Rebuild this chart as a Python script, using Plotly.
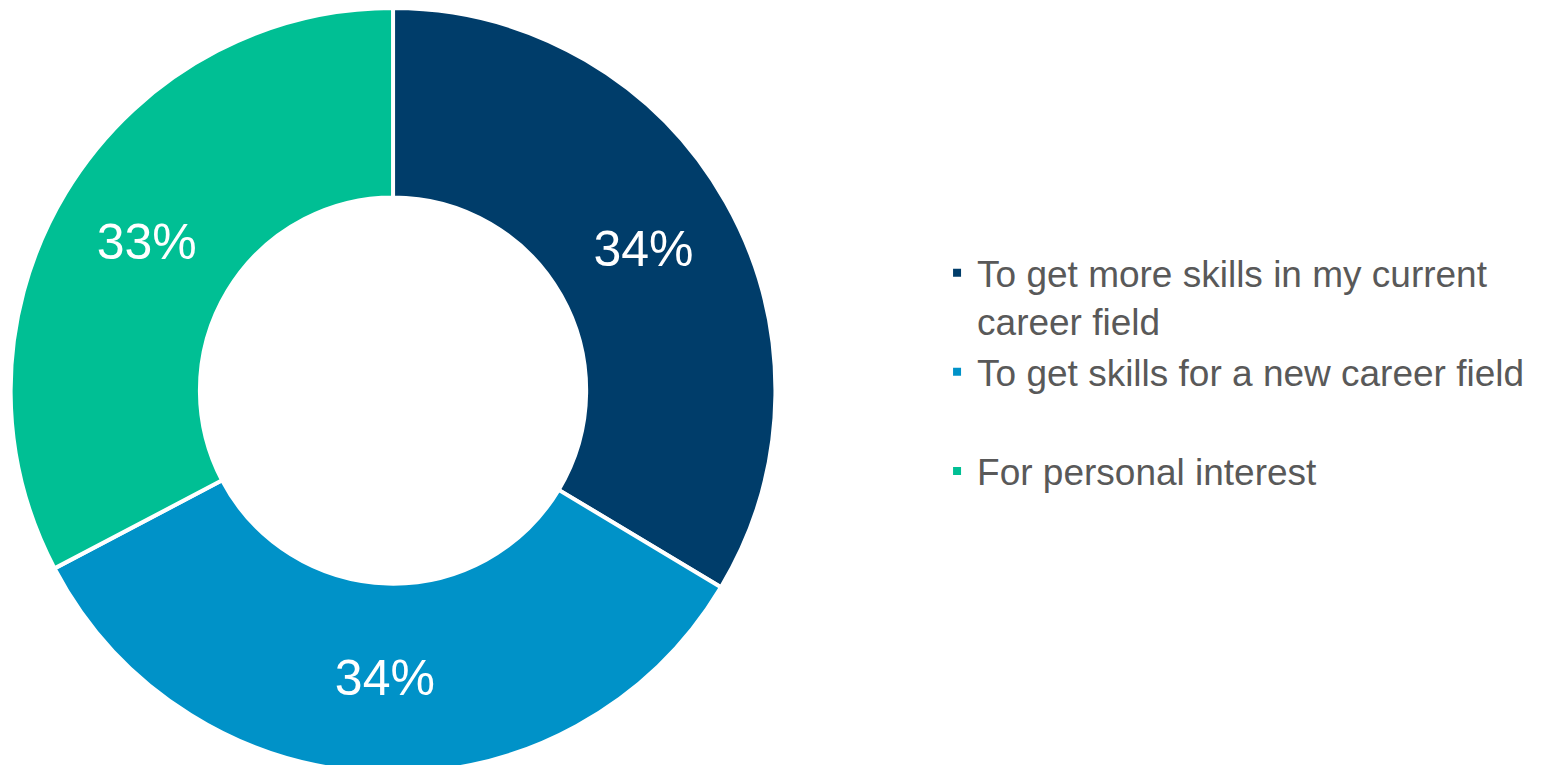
import plotly.graph_objects as go

labels = [
    "To get more skills in my current<br>career field",
    "To get skills for a new career field<br> ",
    "For personal interest",
]
values = [33.6, 33.7, 32.7]
colors = ["#003D6A", "#0092C8", "#00BF94"]

W, H = 1542, 765

fig = go.Figure(
    go.Pie(
        labels=labels,
        values=values,
        sort=False,
        direction="clockwise",
        rotation=0,
        hole=0.505,
        marker=dict(colors=colors, line=dict(color="#FFFFFF", width=4)),
        texttemplate="%{percent:.0%}",
        textposition="inside",
        insidetextorientation="horizontal",
        textfont=dict(family="Liberation Sans", size=50, color="#FFFFFF"),
        domain=dict(x=[0.0017, 0.4977], y=[0.0, 1.0]),
        hoverinfo="label+percent",
    )
)

fig.update_layout(
    width=W,
    height=H,
    margin=dict(l=0, r=0, t=0, b=0),
    paper_bgcolor="#FFFFFF",
    plot_bgcolor="#FFFFFF",
    showlegend=True,
    legend=dict(
        x=0.6025,
        xanchor="left",
        y=0.694,
        yanchor="top",
        valign="top",
        font=dict(family="Liberation Sans", size=37, color="#595959"),
        bgcolor="rgba(0,0,0,0)",
        itemclick=False,
        itemdoubleclick=False,
    ),
)

fig.write_html("out.html")
